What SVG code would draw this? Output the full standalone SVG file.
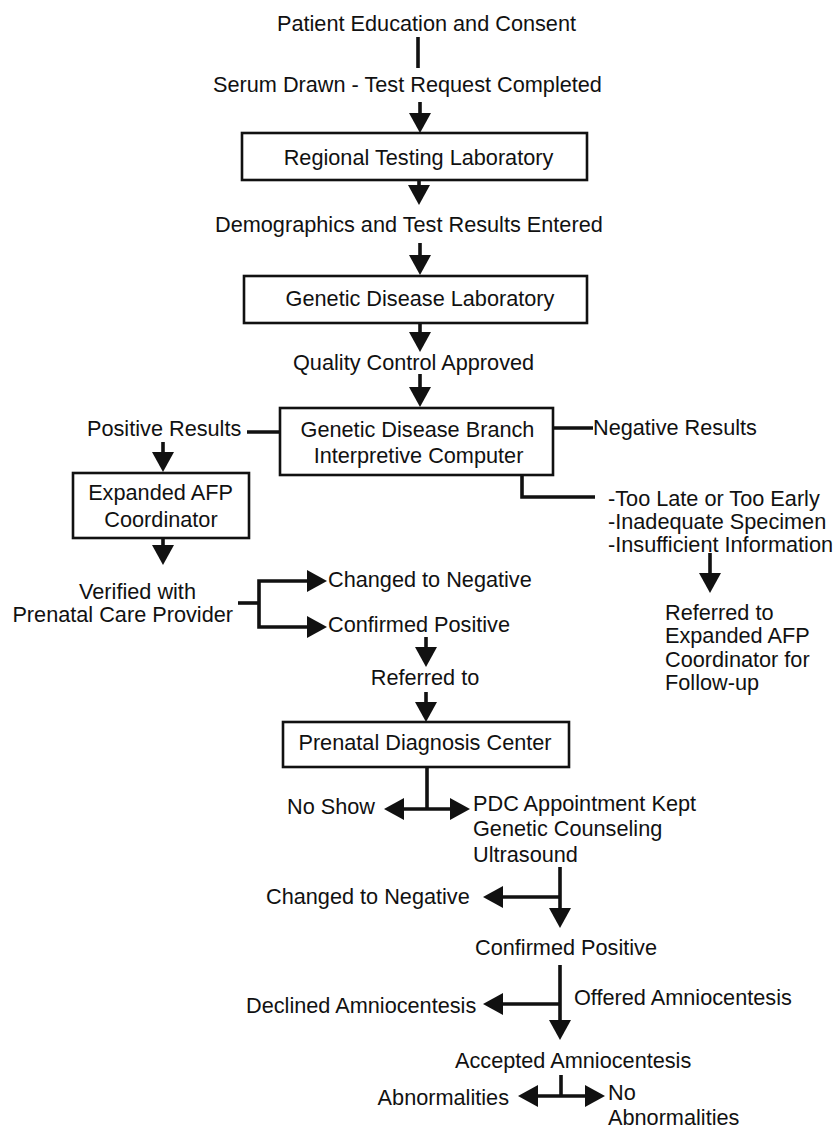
<svg xmlns="http://www.w3.org/2000/svg" width="833" height="1129" viewBox="0 0 833 1129">
<style>
text{font-family:"Liberation Sans",Arial,Helvetica,sans-serif;font-size:21.7px;fill:#111}
.m{text-anchor:middle}
.e{text-anchor:end}
.box{fill:#fff;stroke:#111;stroke-width:2.6}
.c{fill:none;stroke:#111;stroke-width:3.6}
.a{marker-end:url(#ah)}
.b{marker-start:url(#ah);marker-end:url(#ah)}
</style>
<defs>
<marker id="ah" viewBox="0 0 20 22" markerWidth="20" markerHeight="22" refX="2" refY="11" orient="auto-start-reverse" markerUnits="userSpaceOnUse">
<path d="M0,0 L20,11 L0,22 z" fill="#111"/>
</marker>
</defs>
<rect width="833" height="1129" fill="#fff"/>
<g id="connectors">
<path class="c" d="M418,37 V68"/>
<path class="c a" d="M420,102 V115"/>
<path class="c a" d="M419,180 V187"/>
<path class="c a" d="M420,243 V257"/>
<path class="c a" d="M420,323 V334"/>
<path class="c a" d="M420,374 V389"/>
<path class="c" d="M247,432 H280"/>
<path class="c a" d="M163,442 V454"/>
<path class="c a" d="M163,538 V547"/>
<path class="c" d="M553,428 H593"/>
<path class="c" d="M522,475 V497 H595"/>
<path class="c a" d="M710,553 V575"/>
<path class="c" d="M238,603 H259"/>
<path class="c b" d="M309,581 H259 V627 H309"/>
<path class="c a" d="M426,637 V649"/>
<path class="c a" d="M426,692 V704"/>
<path class="c" d="M427,767 V809"/>
<path class="c b" d="M402,809 H452"/>
<path class="c a" d="M560,867 V910"/>
<path class="c a" d="M560,897 H501"/>
<path class="c a" d="M560,965 V1022"/>
<path class="c a" d="M560,1004 H501"/>
<path class="c" d="M561,1075 V1096"/>
<path class="c b" d="M536,1096 H587"/>
</g>
<g id="n-consent"><text x="277" y="31">Patient Education and Consent</text></g>
<g id="n-serum"><text x="213" y="92">Serum Drawn - Test Request Completed</text></g>
<g id="n-regional"><rect class="box" x="242" y="133" width="345" height="47"/><text class="m" x="418.5" y="165">Regional Testing Laboratory</text></g>
<g id="n-demo"><text x="215" y="232">Demographics and Test Results Entered</text></g>
<g id="n-gdl"><rect class="box" x="244" y="276" width="343" height="47"/><text class="m" x="420" y="306">Genetic Disease Laboratory</text></g>
<g id="n-qc"><text x="293" y="370">Quality Control Approved</text></g>
<g id="n-gdb"><rect class="box" x="280" y="408" width="273" height="67"/><text class="m" x="417.5" y="437">Genetic Disease Branch</text><text class="m" x="418.5" y="463">Interpretive Computer</text></g>
<g id="n-pos"><text x="87" y="436">Positive Results</text></g>
<g id="n-neg"><text x="593" y="435">Negative Results</text></g>
<g id="n-afp"><rect class="box" x="73" y="473" width="176" height="65"/><text class="m" x="160.5" y="500">Expanded AFP</text><text class="m" x="161" y="527">Coordinator</text></g>
<g id="n-verified"><text class="m" x="137.5" y="599">Verified with</text><text class="e" x="233" y="622">Prenatal Care Provider</text></g>
<g id="n-changed1"><text x="328" y="587">Changed to Negative</text></g>
<g id="n-confirmed1"><text x="328" y="632">Confirmed Positive</text></g>
<g id="n-reasons"><text x="608" y="506">-Too Late or Too Early</text><text x="608" y="529">-Inadequate Specimen</text><text x="608" y="552">-Insufficient Information</text></g>
<g id="n-referred-afp"><text x="665" y="620">Referred to</text><text x="665" y="643">Expanded AFP</text><text x="665" y="667">Coordinator for</text><text x="665" y="690">Follow-up</text></g>
<g id="n-referred"><text class="m" x="425" y="685">Referred to</text></g>
<g id="n-pdc"><rect class="box" x="283" y="722" width="286" height="45"/><text class="m" x="425" y="750">Prenatal Diagnosis Center</text></g>
<g id="n-noshow"><text x="287" y="814">No Show</text></g>
<g id="n-kept"><text x="473" y="811">PDC Appointment Kept</text><text x="473" y="836">Genetic Counseling</text><text x="473" y="862">Ultrasound</text></g>
<g id="n-changed2"><text x="266" y="904">Changed to Negative</text></g>
<g id="n-confirmed2"><text x="475" y="955">Confirmed Positive</text></g>
<g id="n-declined"><text x="246" y="1013">Declined Amniocentesis</text></g>
<g id="n-offered"><text x="574" y="1005">Offered Amniocentesis</text></g>
<g id="n-accepted"><text x="455" y="1068">Accepted Amniocentesis</text></g>
<g id="n-abn"><text class="e" x="509" y="1105">Abnormalities</text></g>
<g id="n-noabn"><text x="608" y="1100">No</text><text x="608" y="1125">Abnormalities</text></g>
</svg>
